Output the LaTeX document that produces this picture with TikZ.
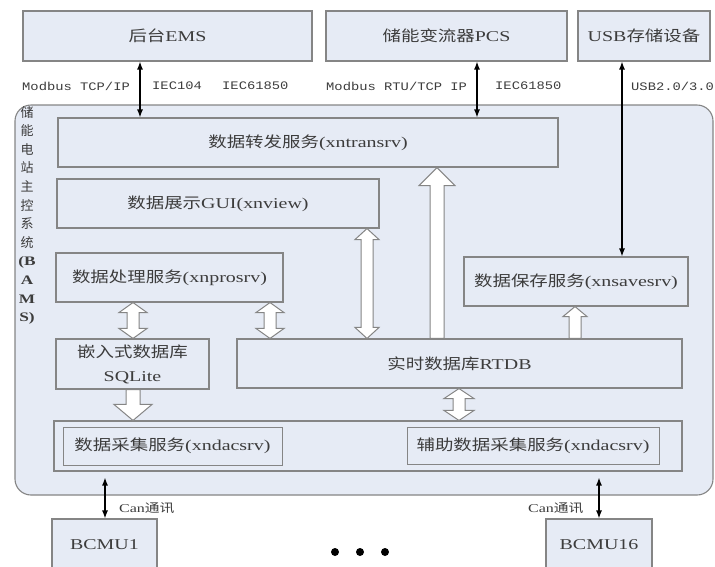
\documentclass[tikz,border=0pt]{standalone}
\usepackage{fontspec}
\setmainfont{Liberation Serif}[FakeStretch=1.33]
\newfontfamily\cjkf{Noto Sans CJK SC}[FakeStretch=1.23]
\newfontfamily\cjkv{Noto Sans CJK SC}
\newfontfamily\monof{Liberation Mono}[FakeStretch=1.2]
\usetikzlibrary{arrows.meta,calc}
\newcommand\zh[1]{{\cjkf #1}}
\definecolor{boxfill}{HTML}{E6EBF5}
\definecolor{boxline}{HTML}{858585}
\definecolor{txt}{HTML}{3C3C3C}
% hollow arrow, single head at the end: #1 start, #2 end, #3 half shaft, #4 half head, #5 head length
\newcommand\hollowS[5]{\draw[hollow] let \p1=#1, \p2=#2, \n1={sign(\y2-(\y1))*#5} in
  ({\x1-#3},\y1) -- ({\x1-#3},{\y2-(\n1)}) -- ({\x1-#4},{\y2-(\n1)}) -- (\x1,\y2)
  -- ({\x1+#4},{\y2-(\n1)}) -- ({\x1+#3},{\y2-(\n1)}) -- ({\x1+#3},\y1) -- cycle;}
% hollow arrow, heads at both ends
\newcommand\hollowD[5]{\draw[hollow] let \p1=#1, \p2=#2, \n1={sign(\y2-(\y1))*#5} in
  ({\x1-#3},{\y1+(\n1)}) -- ({\x1-#3},{\y2-(\n1)}) -- ({\x1-#4},{\y2-(\n1)}) -- (\x1,\y2)
  -- ({\x1+#4},{\y2-(\n1)}) -- ({\x1+#3},{\y2-(\n1)}) -- ({\x1+#3},{\y1+(\n1)})
  -- ({\x1+#4},{\y1+(\n1)}) -- (\x1,\y1) -- ({\x1-#4},{\y1+(\n1)}) -- cycle;}
\begin{document}
\begin{tikzpicture}[x=1pt,y=-1pt,
  box/.style={draw=boxline,fill=boxfill,line width=1.1pt,inner sep=0pt,text=txt,
    font=\fontsize{15}{18}\selectfont,align=center},
  ibox/.style={box,line width=1pt},
  cont/.style={draw=boxline,fill=boxfill,line width=1.1pt,rounded corners=16pt,inner sep=0pt},
  mlabel/.style={anchor=west,inner sep=0pt,text=txt,font=\monof\fontsize{11.5}{13}\selectfont},
  clabel/.style={anchor=west,inner sep=0pt,text=txt,font=\fontsize{12}{14}\selectfont},
  barrow/.style={draw=black,line width=1.2pt,{Latex[length=8pt,width=6pt]}-{Latex[length=8pt,width=6pt]}},
  hollow/.style={draw=boxline,fill=white,line width=1pt,line join=miter},
  dot/.style={circle,fill=black,inner sep=0pt,minimum size=8pt}]
\useasboundingbox (0,0) rectangle (715,566);
\clip (0,0) rectangle (715,566);

% container
\node[cont,minimum width=698pt,minimum height=390pt] (bams) at (364,300) {};

% top boxes
\node[box,minimum width=289pt,minimum height=50pt] (ems) at (167.5,36) {\zh{后台}EMS};
\node[box,minimum width=241pt,minimum height=50pt] (pcs) at (446.5,36) {\zh{储能变流器}PCS};
\node[box,minimum width=132pt,minimum height=50pt] (usb) at (644,36) {USB\zh{存储设备}};

% inner boxes
\node[box,minimum width=500pt,minimum height=49pt] (trans) at (308,142.5) {\zh{数据转发服务}(xntransrv)};
\node[box,minimum width=322pt,minimum height=49pt] (gui) at (218,203.5) {\zh{数据展示}GUI(xnview)};
\node[box,minimum width=227pt,minimum height=49pt] (pros) at (169.5,277.5) {\zh{数据处理服务}(xnprosrv)};
\node[box,minimum width=224pt,minimum height=49pt] (save) at (576,281.5) {\zh{数据保存服务}(xnsavesrv)};
\node[box,minimum width=153pt,minimum height=50pt,font=\fontsize{15}{24}\selectfont] (sqlite) at (132.5,364) {\zh{嵌入式数据库}\\SQLite};
\node[box,minimum width=445pt,minimum height=49pt] (rtdb) at (459.5,363.5) {\zh{实时数据库}RTDB};
\node[box,minimum width=628pt,minimum height=50pt] (dacq) at (368,446) {};
\node[ibox,minimum width=219pt,minimum height=38pt] (dac1) at (172.5,446) {\zh{数据采集服务}(xndacsrv)};
\node[ibox,minimum width=252pt,minimum height=37pt] (dac2) at (533,445.5) {\zh{辅助数据采集服务}(xndacsrv)};

% bottom boxes
\node[box,minimum width=105pt,minimum height=52pt] (bcmu1) at (104.5,545) {BCMU1};
\node[box,minimum width=106pt,minimum height=52pt] (bcmu16) at (599,545) {BCMU16};

% vertical label
\node[anchor=north,inner sep=0pt,align=center,text=txt,font=\cjkv\fontsize{13}{18.6}\selectfont] (vlab) at (27,106)
  {储\\能\\电\\站\\主\\控\\系\\统\\{\rmfamily\bfseries (B}\\{\rmfamily\bfseries A}\\{\rmfamily\bfseries M}\\{\rmfamily\bfseries S)}};

% protocol labels
\node[mlabel] (l1) at (22,86) {Modbus TCP/IP};
\node[mlabel] (l2) at (152,86) {IEC104};
\node[mlabel] (l3) at (222,86) {IEC61850};
\node[mlabel] (l4) at (326,86) {Modbus RTU/TCP IP};
\node[mlabel] (l5) at (495,86) {IEC61850};
\node[mlabel] (l6) at (631,86) {USB2.0/3.0};
\node[clabel] (c1) at (119,508) {Can\zh{通讯}};
\node[clabel] (c2) at (528,508) {Can\zh{通讯}};

% dots
\node[dot] (d1) at (335,552) {};
\node[dot] (d2) at (360,552) {};
\node[dot] (d3) at (385,552) {};

% x positions of connectors
\coordinate (xa) at (140,0);
\coordinate (xb) at (477,0);
\coordinate (xc) at (622,0);
\coordinate (xd) at (105,0);
\coordinate (xe) at (599,0);
\coordinate (h1) at (437,0);
\coordinate (h2) at (367,0);
\coordinate (h3) at (133,0);
\coordinate (h4) at (270,0);
\coordinate (h5) at (459,0);
\coordinate (h6) at (575,0);

% black arrows
\draw[barrow] (ems.south -| xa) -- (trans.north -| xa);
\draw[barrow] (pcs.south -| xb) -- (trans.north -| xb);
\draw[barrow] (usb.south -| xc) -- (save.north -| xc);
\draw[barrow,shorten <=6pt] (dacq.south -| xd) -- (bcmu1.north -| xd);
\draw[barrow,shorten <=6pt] (dacq.south -| xe) -- (bcmu16.north -| xe);

% hollow arrows
\hollowS{(rtdb.north -| h1)}{(trans.south -| h1)}{7pt}{18pt}{18pt}
\hollowD{(gui.south -| h2)}{(rtdb.north -| h2)}{6pt}{12pt}{11pt}
\hollowD{(pros.south -| h3)}{(sqlite.north -| h3)}{6pt}{14pt}{10pt}
\hollowD{(pros.south -| h4)}{(rtdb.north -| h4)}{6pt}{14pt}{10pt}
\hollowS{(sqlite.south -| h3)}{(dacq.north -| h3)}{7pt}{19pt}{16pt}
\hollowD{(rtdb.south -| h5)}{(dacq.north -| h5)}{6pt}{15pt}{10pt}
\hollowS{(rtdb.north -| h6)}{(save.south -| h6)}{6pt}{12pt}{10pt}
\end{tikzpicture}
\end{document}
